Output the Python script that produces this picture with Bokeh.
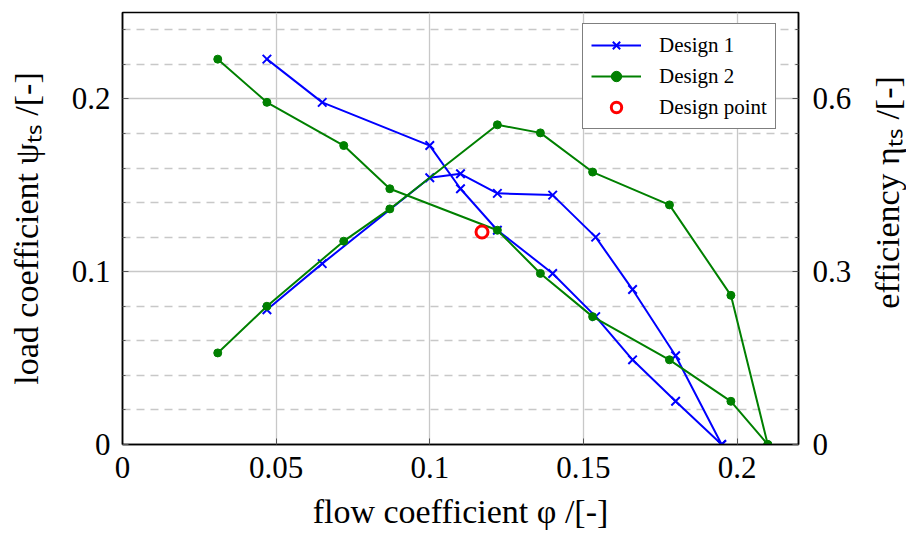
import math
from bokeh.plotting import figure
from bokeh.layouts import row
from bokeh.models import Range1d, LinearAxis, FixedTicker, Legend, LegendItem, Label
from bokeh.embed import file_html
from bokeh.resources import INLINE

# ---- data ----
d1_phi = [0.047, 0.065, 0.100, 0.110, 0.122, 0.140, 0.154, 0.166, 0.180, 0.195]
d1_psi = [0.223, 0.198, 0.173, 0.148, 0.124, 0.099, 0.074, 0.049, 0.025, 0.0]
d1_eta = [0.234, 0.314, 0.463, 0.470, 0.436, 0.433, 0.360, 0.269, 0.154, 0.0]

d2_phi = [0.031, 0.047, 0.072, 0.087, 0.122, 0.136, 0.153, 0.178, 0.198, 0.210]
d2_psi = [0.223, 0.198, 0.173, 0.148, 0.124, 0.099, 0.074, 0.049, 0.025, 0.0]
d2_eta = [0.159, 0.240, 0.353, 0.409, 0.555, 0.541, 0.473, 0.416, 0.259, 0.0]

dp_phi = [0.117]
dp_psi = [0.123]

x_ticks = [0, 0.05, 0.1, 0.15, 0.2]
x_labels = ["0", "0.05", "0.1", "0.15", "0.2"]
yl_ticks = [0, 0.1, 0.2]
yl_labels = ["0", "0.1", "0.2"]
yl_minor = [0.02, 0.04, 0.06, 0.08, 0.12, 0.14, 0.16, 0.18, 0.22, 0.24]
yr_ticks = [0, 0.3, 0.6]
yr_labels = ["0", "0.3", "0.6"]
yr_minor = [0.06, 0.12, 0.18, 0.24, 0.36, 0.42, 0.48, 0.54, 0.66, 0.72]

FONT = "Liberation Serif"
BLUE = "#0000ff"
GREEN = "#008000"
RED = "#ff0000"
GRID = "#c8c8c8"
H = 533
LW = 38

p = figure(width=906 - LW, height=H, output_backend="svg", toolbar_location=None,
           x_range=Range1d(0, 0.22), y_range=Range1d(0, 0.25),
           min_border_left=122, min_border_right=108 - LW, min_border_top=12,
           min_border_bottom=89)
p.extra_y_ranges = {"eta": Range1d(0, 0.75)}
p.background_fill_color = "white"
p.border_fill_color = "white"
p.outline_line_color = "black"
p.outline_line_width = 1.5

# axes
xa = p.xaxis[0]
xa.ticker = FixedTicker(ticks=x_ticks)
xa.major_label_overrides = {t: l for t, l in zip(x_ticks, x_labels)}
xa.axis_label = "flow coefficient φ /[-]"

ya = p.yaxis[0]
ya.ticker = FixedTicker(ticks=yl_ticks, minor_ticks=yl_minor)
ya.major_label_overrides = {t: l for t, l in zip(yl_ticks, yl_labels)}
ya.axis_label = "load coefficient ψₜₛ /[-]"

yr = LinearAxis(y_range_name="eta",
                ticker=FixedTicker(ticks=yr_ticks, minor_ticks=yr_minor))
yr.major_label_overrides = {t: l for t, l in zip(yr_ticks, yr_labels)}
p.add_layout(yr, "right")

for ax in [xa, ya, yr]:
    ax.axis_line_color = "black"
    ax.axis_line_width = 1.5
    ax.major_tick_in = 6
    ax.major_tick_out = 0
    ax.minor_tick_in = 3
    ax.minor_tick_out = 0
    ax.major_tick_line_color = "#555555"
    ax.minor_tick_line_color = "#555555"
    ax.major_label_text_font = FONT
    ax.major_label_text_font_size = "31px"
    ax.major_label_text_color = "black"
    ax.axis_label_text_font = FONT
    ax.axis_label_text_font_size = "34px"
    ax.axis_label_text_font_style = "normal"
    ax.axis_label_text_color = "black"
xa.minor_tick_in = 0
xa.major_label_standoff = 12
xa.axis_label_standoff = 12
ya.major_label_standoff = 12
ya.axis_label_standoff = 24
yr.major_label_standoff = 14

# grids
p.xgrid.grid_line_color = GRID
p.xgrid.grid_line_width = 1.3
p.ygrid.grid_line_color = GRID
p.ygrid.grid_line_width = 1.3
p.ygrid.minor_grid_line_color = GRID
p.ygrid.minor_grid_line_width = 1.3
p.ygrid.minor_grid_line_dash = "8 6"

# data
l1a = p.line(d1_phi, d1_psi, line_color=BLUE, line_width=2)
s1a = p.scatter(d1_phi, d1_psi, marker="x", size=12, line_color=BLUE, line_width=2)
l1b = p.line(d1_phi, d1_eta, line_color=BLUE, line_width=2, y_range_name="eta")
s1b = p.scatter(d1_phi, d1_eta, marker="x", size=12, line_color=BLUE, line_width=2,
                y_range_name="eta")

l2a = p.line(d2_phi, d2_psi, line_color=GREEN, line_width=2)
s2a = p.scatter(d2_phi, d2_psi, marker="circle", size=8, fill_color=GREEN,
                line_color=GREEN)
l2b = p.line(d2_phi, d2_eta, line_color=GREEN, line_width=2, y_range_name="eta")
s2b = p.scatter(d2_phi, d2_eta, marker="circle", size=8, fill_color=GREEN,
                line_color=GREEN, y_range_name="eta")

sdp = p.scatter(dp_phi, dp_psi, marker="circle", size=12, fill_color=None,
                line_color=RED, line_width=3)

legend = Legend(items=[
    LegendItem(label="Design 1", renderers=[l1a, s1a]),
    LegendItem(label="Design 2", renderers=[l2a, s2a]),
    LegendItem(label="Design point", renderers=[sdp]),
], location=(460, 315))
legend.label_text_font = FONT
legend.label_text_font_size = "21px"
legend.label_text_color = "black"
legend.border_line_color = "black"
legend.border_line_width = 1.5
legend.background_fill_alpha = 1
legend.glyph_width = 50
legend.glyph_height = 26
legend.label_height = 26
legend.label_standoff = 18
legend.spacing = 5
legend.padding = 8
legend.margin = 0
p.add_layout(legend, "center")

# narrow strip holding the right-hand axis title (reads bottom-to-top)
lab = figure(width=LW, height=H, output_backend="svg", toolbar_location=None,
             x_range=Range1d(0, LW), y_range=Range1d(0, H),
             x_axis_type=None, y_axis_type=None,
             min_border_left=0, min_border_right=0, min_border_top=0,
             min_border_bottom=0)
lab.outline_line_color = None
lab.background_fill_color = "white"
lab.border_fill_color = "white"
lab.grid.visible = False
lab.add_layout(Label(x=LW / 2, y=H - 222, text="efficiency ηₜₛ /[-]",
                     angle=math.pi / 2, text_align="center",
                     text_baseline="middle", text_font=FONT,
                     text_font_size="34px", text_color="black"))

layout = row(p, lab, spacing=0)
open("out.html", "w").write(file_html(layout, INLINE))
